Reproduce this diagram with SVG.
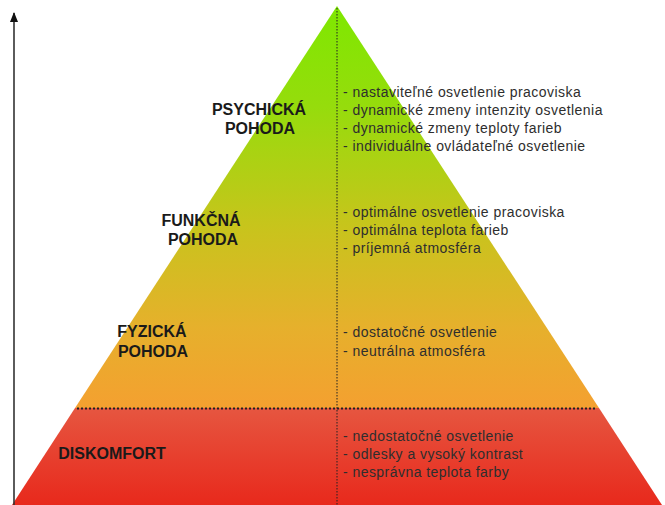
<svg xmlns="http://www.w3.org/2000/svg" width="665" height="505" viewBox="0 0 665 505">
  <defs>
    <linearGradient id="upperFill" x1="0" y1="6" x2="0" y2="408" gradientUnits="userSpaceOnUse">
      <stop offset="0" stop-color="#7EE800"/>
      <stop offset="0.25" stop-color="#96DC0C"/>
      <stop offset="0.55" stop-color="#C8C41C"/>
      <stop offset="0.8" stop-color="#E6B02C"/>
      <stop offset="1" stop-color="#F4A030"/>
    </linearGradient>
    <linearGradient id="lowerFill" x1="0" y1="408" x2="0" y2="505" gradientUnits="userSpaceOnUse">
      <stop offset="0" stop-color="#E65640"/>
      <stop offset="1" stop-color="#E8291C"/>
    </linearGradient>
    <marker id="arrowHead" viewBox="0 0 10 8" refX="9" refY="4" markerWidth="10" markerHeight="8" markerUnits="userSpaceOnUse" orient="auto">
      <path d="M0,0 L10,4 L0,8 Z" fill="#111"/>
    </marker>
    <style>
      .lvl { font-family: "Liberation Sans", Arial, sans-serif; font-weight: bold; font-size: 16px; fill: #1a1a1a; text-anchor: middle; }
      .item { font-family: "Liberation Sans", Arial, sans-serif; font-size: 14px; letter-spacing: 0.45px; fill: #2e2e2e; }
      .dots { stroke: #222; fill: none; }
    </style>
  </defs>

  <!-- pyramid body -->
  <g id="pyramid">
    <polygon points="337,6 599,408 75,408" fill="url(#upperFill)"/>
    <polygon points="75,408 599,408 662,505 12,505" fill="url(#lowerFill)"/>
  </g>

  <!-- axis and dividing lines -->
  <g id="connectors">
    <line x1="14" y1="505" x2="14" y2="13" stroke="#333" stroke-width="1.6" marker-end="url(#arrowHead)"/>
    <line class="dots" x1="337" y1="8" x2="337" y2="505" stroke-width="1" stroke-dasharray="1.5,1.5"/>
    <line class="dots" x1="77" y1="408.5" x2="597" y2="408.5" stroke-width="2" stroke-dasharray="2,2"/>
  </g>

  <g id="psychicka">
    <text class="lvl" x="259" y="115">PSYCHICKÁ</text>
    <text class="lvl" x="260" y="134">POHODA</text>
    <text class="item" x="343" y="97">- nastaviteľné osvetlenie pracoviska</text>
    <text class="item" x="343" y="115">- dynamické zmeny intenzity osvetlenia</text>
    <text class="item" x="343" y="133">- dynamické zmeny teploty farieb</text>
    <text class="item" x="343" y="151">- individuálne ovládateľné osvetlenie</text>
  </g>

  <g id="funkcna">
    <text class="lvl" x="201" y="226">FUNKČNÁ</text>
    <text class="lvl" x="203" y="245">POHODA</text>
    <text class="item" x="343" y="217">- optimálne osvetlenie pracoviska</text>
    <text class="item" x="343" y="235">- optimálna teplota farieb</text>
    <text class="item" x="343" y="253">- príjemná atmosféra</text>
  </g>

  <g id="fyzicka">
    <text class="lvl" x="152" y="337">FYZICKÁ</text>
    <text class="lvl" x="153" y="357">POHODA</text>
    <text class="item" x="343" y="337">- dostatočné osvetlenie</text>
    <text class="item" x="343" y="356">- neutrálna atmosféra</text>
  </g>

  <g id="diskomfort">
    <text class="lvl" x="112" y="459">DISKOMFORT</text>
    <text class="item" x="343" y="441">- nedostatočné osvetlenie</text>
    <text class="item" x="343" y="459">- odlesky a vysoký kontrast</text>
    <text class="item" x="343" y="477">- nesprávna teplota farby</text>
  </g>
</svg>
